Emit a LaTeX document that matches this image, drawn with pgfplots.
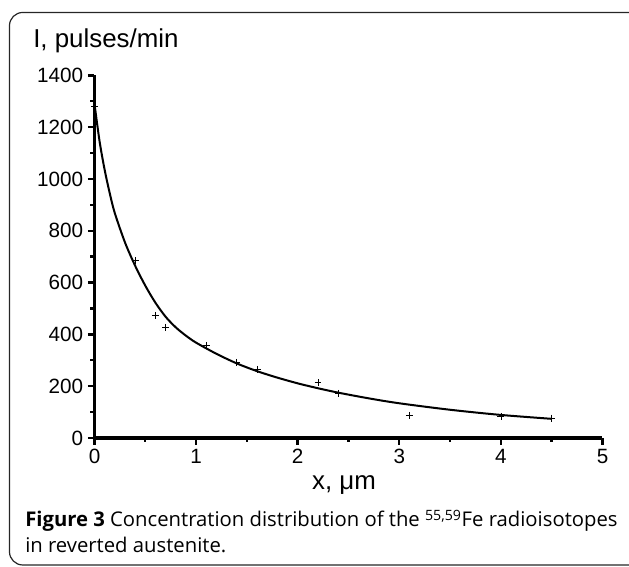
\documentclass[border=0pt]{standalone}
\usepackage{pgfplots}
\pgfplotsset{compat=1.18}
\usepackage{fontspec}
\setmainfont{Liberation Sans}
\newfontfamily\capfont{Open Sans}
\begin{document}
\begin{tikzpicture}
\useasboundingbox (0,0) rectangle (471.75pt,425.25pt);
% frame
\draw[line width=0.9pt, color=black!85, rounded corners=10pt]
  (480pt,415.9pt) -- (7.1pt,415.9pt) -- (7.1pt,1.5pt) -- (480pt,1.5pt);
\begin{axis}[
  scale only axis,
  width=381pt, height=272pt,
  at={(70.875pt,96.75pt)}, anchor=south west,
  xmin=0, xmax=5, ymin=0, ymax=1400,
  axis x line=bottom, axis y line=left,
  axis line style={line width=2.4pt, -},
  xtick={0,1,2,3,4,5},
  ytick={0,200,400,600,800,1000,1200,1400},
  minor x tick num=1, minor y tick num=1,
  tick align=outside,
  major tick length=5pt, minor tick length=3pt,
  every tick/.style={line width=1.8pt, black},
  /pgf/number format/assume math mode=true,
  /pgf/number format/1000 sep={},
  ticklabel style={font=\fontsize{15.5}{18}\selectfont},
  clip=false,
]
\addplot[line width=1.5pt, black, smooth] coordinates {
 (0,1290) (0.05,1145) (0.1,1035) (0.15,945) (0.2,868) (0.3,755)
 (0.4,665) (0.5,588) (0.6,522) (0.7,468) (0.8,427) (0.9,395) (1.0,368)
 (1.2,325) (1.4,288) (1.6,258) (1.8,233) (2.0,211) (2.2,192) (2.4,175)
 (2.7,153) (3.0,134) (3.5,109) (4.0,89) (4.5,74)
};
\addplot[only marks, mark=+, mark size=2.6pt, mark options={line width=0.5pt}, black] coordinates {
 (0,1280) (0.4,685) (0.6,473) (0.7,427) (1.1,358) (1.4,292) (1.6,265)
 (2.2,214) (2.4,172) (3.1,87) (4.0,82) (4.5,77)
};
\end{axis}
\node[anchor=base west, inner sep=0pt, font=\fontsize{19.4}{22}\selectfont] at (24.75pt,389.25pt) {I, pulses/min};
\node[anchor=base, inner sep=0pt, font=\fontsize{19.4}{22}\selectfont] at (258pt,57.75pt) {x, μm};
\node[anchor=base west, inner sep=0pt, font=\capfont\fontsize{15.2}{18}\selectfont] at (18.75pt,30pt)
  {\textbf{Figure 3} Concentration distribution of the \textsuperscript{55,59}Fe radioisotopes};
\node[anchor=base west, inner sep=0pt, font=\capfont\fontsize{15.2}{18}\selectfont] at (18.75pt,10.5pt)
  {in reverted austenite.};
\end{tikzpicture}
\end{document}
